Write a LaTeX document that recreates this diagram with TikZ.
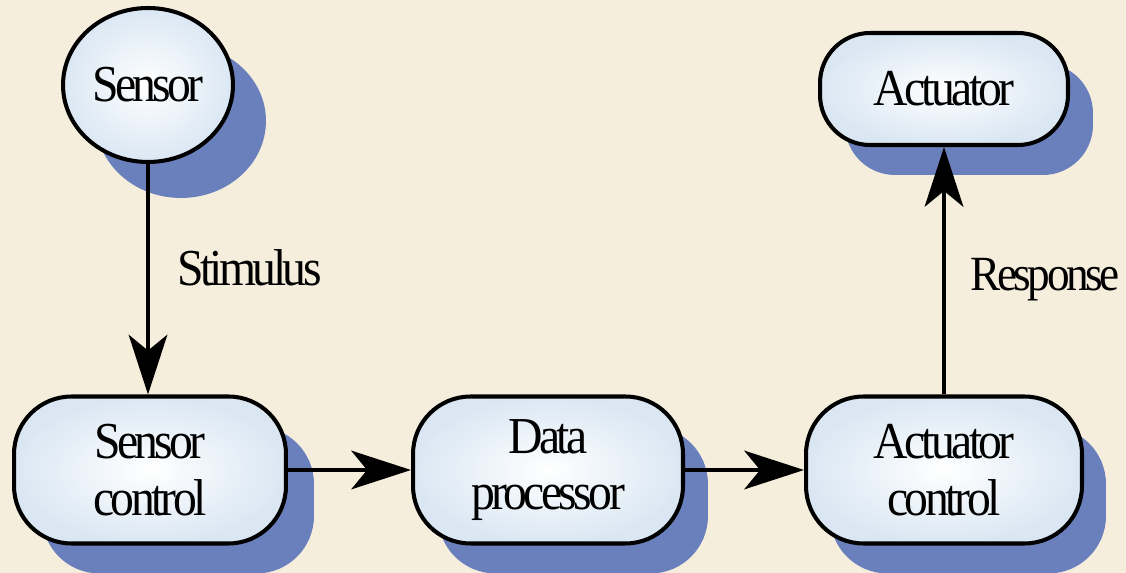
\documentclass[tikz,border=0pt]{standalone}
\usepackage{fontspec}
\newfontfamily\cf[FakeStretch=0.92,LetterSpace=-7]{Liberation Serif}
\usetikzlibrary{arrows.meta,shapes.geometric,shadows}
\definecolor{bgc}{HTML}{F6EEDD}
\definecolor{shc}{HTML}{6A80BD}
\definecolor{edgec}{HTML}{DAE7F3}
\tikzset{
  box/.style={draw=black, line width=2.3pt, inner sep=0pt, align=center,
    font=\cf\fontsize{29.5}{32.3}\selectfont,
    shade, shading=radial, inner color=white, outer color=edgec},
  rbox/.style={box, rectangle, rounded corners=#1},
  shad/.style={drop shadow={shadow xshift=#1, shadow yshift=-0.6cm, fill=shc, opacity=1}},
  conn/.style={line width=2.1pt, -{Stealth[length=34pt,width=22pt,inset=9pt]}},
  lbl/.style={font=\cf\fontsize{29.5}{32.3}\selectfont, inner sep=0pt}
}
\begin{document}
\begin{tikzpicture}[x=0.02cm,y=-0.02cm]
\fill[bgc] (0,0) rectangle (1126,573);
\useasboundingbox (0,0) rectangle (1126,573);
\node[box, ellipse, minimum width=3.4cm, minimum height=3.08cm,
  drop shadow={shadow xshift=0.66cm, shadow yshift=-0.72cm, fill=shc, opacity=1}]
  (sensor) at (148,85) {Sensor};
\node[rbox=1.0cm, shad=0.5cm, minimum width=4.96cm, minimum height=2.24cm] (act) at (944,89) {Actuator};
\node[rbox=1.15cm, shad=0.56cm, minimum width=5.44cm, minimum height=2.94cm] (sc) at (150,470) {Sensor\\control};
\node[rbox=1.15cm, shad=0.5cm, minimum width=5.4cm, minimum height=2.94cm] (dp) at (548,470) {Data\\processor};
\node[rbox=1.15cm, shad=0.48cm, minimum width=5.52cm, minimum height=2.94cm] (ac) at (944,470) {Actuator\\control};
\draw[conn] (sensor.south) -- (sensor.south |- sc.north);
\draw[conn] (sc.east) -- (dp.west);
\draw[conn] (dp.east) -- (ac.west);
\draw[conn] (ac.north) -- (act.south);
\node[lbl, anchor=west] (stim) at (177,268) {Stimulus};
\node[lbl, anchor=east, font=\cf\fontsize{28}{32}\selectfont] (resp) at (1120,280) {Response};
\end{tikzpicture}
\end{document}
